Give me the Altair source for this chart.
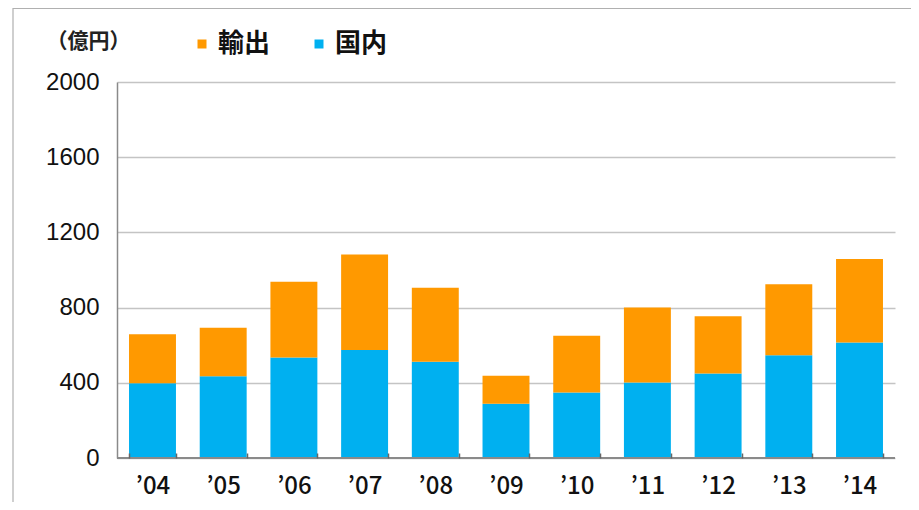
import altair as alt
import pandas as pd

years = ["’04", "’05", "’06", "’07", "’08", "’09", "’10", "’11", "’12", "’13", "’14"]
domestic = [397, 435, 535, 574, 512, 288, 349, 402, 450, 547, 615]
export = [261, 258, 402, 508, 393, 149, 301, 398, 304, 377, 443]
series = ["輸出", "国内"]
colors = ["#FF9900", "#00B0F0"]
y_ticks = [0, 400, 800, 1200, 1600, 2000]

rows = []
for i, yr in enumerate(years):
    rows.append({"year": yr, "series": "国内", "value": domestic[i], "ord": 0})
    rows.append({"year": yr, "series": "輸出", "value": export[i], "ord": 1})
df = pd.DataFrame(rows)

num_font = "Liberation Sans"
jp_font = "Noto Sans CJK JP"

bars = alt.Chart(df).mark_bar().encode(
    x=alt.X(
        "year:N",
        sort=years,
        scale=alt.Scale(paddingInner=0.336, paddingOuter=0.17),
        axis=alt.Axis(
            title=None,
            labelAngle=0,
            tickBand="extent",
            ticks=True,
            tickSize=5,
            tickColor="#666666",
            tickWidth=1.5,
            offset=-5,
            domain=False,
            labelPadding=16,
            labelFont=jp_font,
            labelFontSize=24,
            labelColor="#111111",
            labelFontWeight=500,
            zindex=1,
        ),
    ),
    y=alt.Y(
        "value:Q",
        stack="zero",
        scale=alt.Scale(domain=[0, 2000], nice=False),
        axis=alt.Axis(
            values=y_ticks,
            format="d",
            title="（億円）",
            titleAngle=0,
            titleX=-29,
            titleY=-41,
            titleAlign="center",
            titleBaseline="middle",
            titleFont=jp_font,
            titleFontSize=21,
            titleFontWeight="bold",
            titleColor="#222222",
            ticks=False,
            labelPadding=18,
            labelFont=num_font,
            labelFontSize=24,
            labelColor="#111111",
            domainColor="#8a8a8a",
            domainWidth=1.5,
            gridColor="#c4c4c4",
            gridWidth=1.5,
        ),
    ),
    color=alt.Color(
        "series:N",
        scale=alt.Scale(domain=series, range=colors),
        legend=alt.Legend(
            title=None,
            orient="none",
            legendX=72,
            legendY=-51,
            direction="horizontal",
            symbolType="square",
            symbolSize=81,
            symbolStrokeWidth=0,
            labelFont=jp_font,
            labelFontSize=26,
            labelFontWeight="bold",
            labelColor="#111111",
            labelOffset=3,
            columnPadding=35,
            padding=0,
        ),
    ),
    order=alt.Order("ord:Q"),
)

baseline = alt.Chart(df).mark_rule(color="#8a8a8a", strokeWidth=1.5).encode(
    y=alt.datum(0)
)

frame = alt.Chart(alt.Data(values=[{}])).mark_rect(
    fill=None, stroke="#b0b0b0", strokeWidth=1.2
).encode(
    x=alt.value(-104),
    x2=alt.value(900),
    y=alt.value(-73.5),
    y2=alt.value(500),
)

chart = alt.layer(bars, baseline, frame).properties(
    width=778,
    height=376,
    autosize=alt.AutoSizeParams(type="none"),
    padding={"left": 109, "top": 74, "right": 16, "bottom": 44},
).configure_view(stroke=None)

chart.save("out.html", embed_options={"renderer": "svg", "actions": False})
